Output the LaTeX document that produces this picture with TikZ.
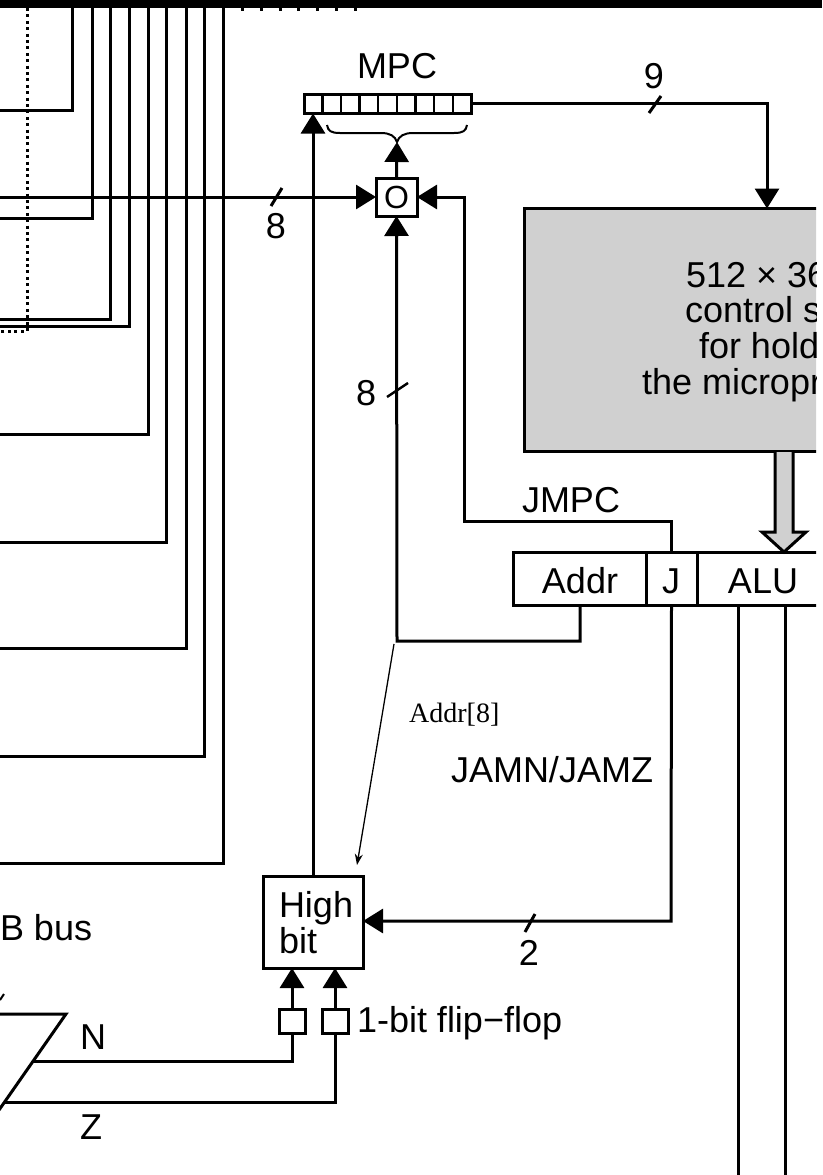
\documentclass[tikz,border=0pt]{standalone}
\usepackage{fontspec}
\setmainfont{Liberation Sans}
\newfontfamily\serifaddr{Liberation Serif}
\usetikzlibrary{arrows.meta}
\tikzset{
  x=1pt,y=-1pt,
  wire/.style={line width=3pt,draw=black},
  head/.style={wire,-{Triangle[length=20pt,width=24pt]}},
  slashmark/.style={line width=3pt,draw=black},
  thinarrow/.style={line width=1.3pt,draw=black,-{Stealth[length=11pt,width=8pt]}},
  dots/.style={line width=3pt,draw=black,dash pattern=on 3pt off 3.4pt},
  box/.style={draw=black,line width=3pt,fill=white,rectangle,inner sep=0pt,outer sep=0pt},
  greybox/.style={box,fill=storegrey},
  lbl/.style={inner sep=0pt,outer sep=0pt,font=\fontsize{36}{37}\selectfont},
  lw/.style={lbl,anchor=base west},
  lc/.style={lbl,anchor=base},
}
\definecolor{storegrey}{RGB}{208,208,208}
\begin{document}
\begin{tikzpicture}
\useasboundingbox (0,0) rectangle (822,1175);
% top bar
\fill[black] (0,0) rectangle (822,8);
\coordinate (dt1) at (241,9.5); \coordinate (dt2) at (358,9.5);
\draw[line width=3pt,dash pattern=on 3pt off 15.8pt] (dt1) -- (dt2);
% dotted boundary
\coordinate (d1) at (27,8); \coordinate (d2) at (27,331); \coordinate (d3) at (0,331);
\draw[dots] (d1) -- (d2) -- (d3);
% bus wires
\foreach \x/\y in {72/110,92/218,110/319,129/326,148/434,166/542,186/648,204/756,223/863}{
  \coordinate (ws) at (\x,8); \coordinate (we) at (0,\y);
  \draw[wire] (ws) |- (we);
}
% MPC register
\node[box,minimum width=167pt,minimum height=19pt] (mpc) at (387.5,104) {};
\foreach \x in {322.5,341,359.5,378,397,415.5,434,453}{
  \coordinate (ct) at (\x,94.5); \coordinate (cb) at (\x,113.5);
  \draw[line width=2.4pt] (ct) -- (cb);
}
\node[lw] (mpcl) at (357,78) {MPC};
% brace
\coordinate (br) at (397,142);
\draw[line width=2pt] (327,125) .. controls (328,131) and (331,133) .. (340,133) -- (381,133) .. controls (390,133) and (395,136) .. (br) .. controls (399,136) and (404,133) .. (413,133) -- (454,133) .. controls (463,133) and (466,131) .. (467,125);
% OR box
\node[box,minimum width=41pt,minimum height=38pt] (or) at (396.5,197) {};
\node[lbl,font=\fontsize{32}{34}\selectfont] (orl) at (396.5,197) {O};
\draw[head] (or.north) -- (br);
% storage
\begin{scope}
\clip (0,0) rectangle (816,1175);
\node[greybox,minimum width=340pt,minimum height=243pt] (cs) at (694,330) {};
\node[lw] (cs1) at (686,287) {512 × 36};
\node[lw] (cs2) at (685,322) {control s};
\node[lw] (cs3) at (699,358) {for hold};
\node[lw] (cs4) at (642,394) {the micropr};
\node[box,minimum width=133pt,minimum height=53pt] (addr) at (580,578.5) {};
\node[box,minimum width=51pt,minimum height=53pt] (jf) at (671.5,578.5) {};
\node[box,minimum width=140pt,minimum height=53pt] (alu) at (767,578.5) {};
\node[lc] (addrl) at (580,593) {Addr};
\node[lc] (jl) at (671,593) {J};
\node[lc] (alul) at (763,593) {ALU};
\end{scope}
% wide arrow
\coordinate (wa) at (784,552);
\draw[line width=3pt,fill=storegrey,line join=miter] (775,452) -- (775,532) -- (762,532) -- (wa) -- (806,532) -- (793,532) -- (793,452);
% MPC to store
\coordinate (mo) at (767,103);
\draw[wire,-{Triangle[length=20pt,width=24pt]}] (mpc.east |- mo) -- (mo) -- (mo |- cs.north);
\coordinate (s9a) at (649,113); \coordinate (s9b) at (661,96);
\draw[slashmark] (s9a) -- (s9b);
\node[lc] (n9) at (654,88) {9};
% input to O
\coordinate (in8) at (0,197);
\draw[head] (in8) -- (or.west);
\coordinate (s8a) at (271,206); \coordinate (s8b) at (282,188);
\draw[slashmark] (s8a) -- (s8b);
\node[lc] (n8a) at (276,238) {8};
% JMPC
\coordinate (jm) at (464,521);
\draw[wire,-{Triangle[length=20pt,width=24pt]}] (jf.north) |- (jm) -- (jm |- or.east) -- (or.east);
\node[lw] (jmpcl) at (522,512) {JMPC};
% Addr to O
\coordinate (aa) at (397,641);
\draw[wire,-{Triangle[length=20pt,width=24pt]}] (addr.south) |- (aa) -- (or.south);
\coordinate (s8c) at (387,397); \coordinate (s8d) at (408,383);
\draw[slashmark,line width=2.4pt] (s8c) -- (s8d);
\node[lw] (n8b) at (356,405) {8};
% High bit
\node[box,minimum width=100pt,minimum height=92pt] (hb) at (313,922) {};
\node[lw] (hb1) at (279,917) {High};
\node[lw] (hb2) at (279,953) {bit};
% high bit to MPC
\draw[head] (hb.north) -- (hb.north |- mpc.south);
% J to High bit
\coordinate (jb) at (671,921);
\draw[wire,-{Triangle[length=20pt,width=24pt]}] (jf.south) -- (jb) -- (hb.east |- jb);
\coordinate (s2a) at (525,932); \coordinate (s2b) at (535,914);
\draw[slashmark] (s2a) -- (s2b);
\node[lc] (n2) at (529,965) {2};
% ALU outputs
\coordinate (a1) at (738,1175); \coordinate (a2) at (785,1175);
\draw[wire] (a1) -- (a1 |- alu.south);
\draw[wire] (a2) -- (a2 |- alu.south);
% thin arrow
\coordinate (ta) at (394,644); \coordinate (tb) at (357,865);
\draw[thinarrow] (ta) -- (tb);
\node[anchor=base west,inner sep=0pt,font=\serifaddr\fontsize{28}{30}\selectfont] (addr8) at (409,722) {Addr[8]};
\node[lw] (jamn) at (451,782) {JAMN/JAMZ};
% flip-flops
\node[box,minimum width=26pt,minimum height=24pt] (ffn) at (292,1021.5) {};
\node[box,minimum width=26pt,minimum height=24pt] (ffz) at (335,1021.5) {};
\draw[head] (ffn.north) -- (ffn.north |- hb.south);
\draw[head] (ffz.north) -- (ffz.north |- hb.south);
\node[lw] (ffl) at (357,1032) {1-bit flip−flop};
% ALU parallelogram
\coordinate (p0) at (0,1014); \coordinate (p1) at (66,1014); \coordinate (p2) at (-1,1110);
\draw[wire] (p0) -- (p1) -- (p2);
\coordinate (nn) at (34,1061); \coordinate (zz) at (4,1102);
\draw[wire] (ffn.south) |- (nn);
\draw[wire] (ffz.south) |- (zz);
\node[lw] (nl) at (80,1049) {N};
\node[lw] (zl) at (80,1139) {Z};
\node[lw] (bbus) at (0,940) {B bus};
\coordinate (t1) at (0,1000); \coordinate (t2) at (4,994);
\draw[line width=2pt] (t1) -- (t2);
\end{tikzpicture}
\end{document}
